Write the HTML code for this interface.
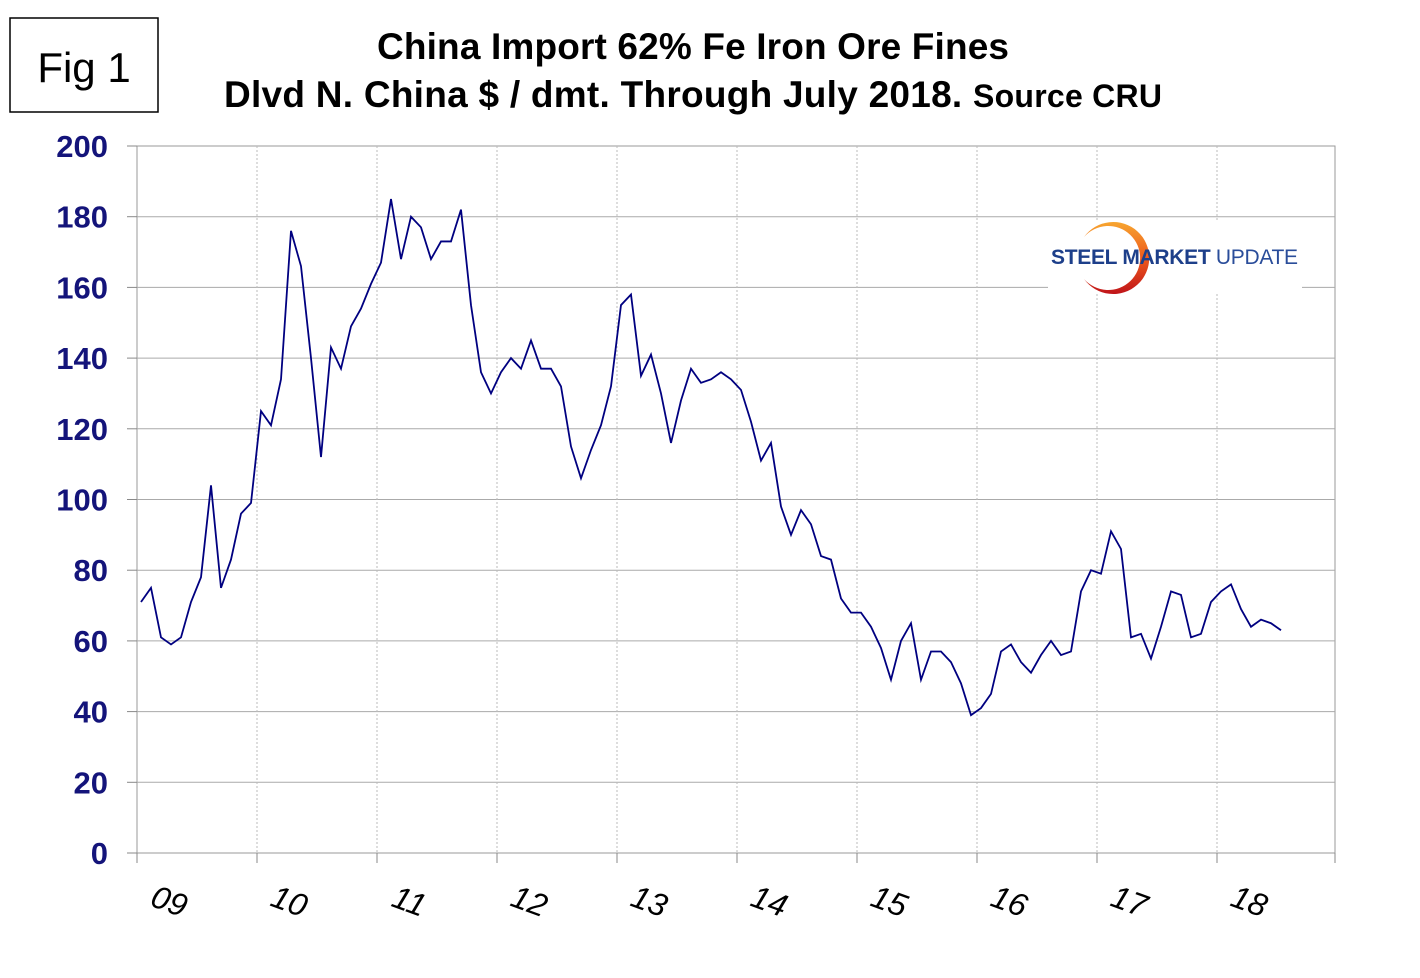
<!DOCTYPE html>
<html><head><meta charset="utf-8"><style>
body{margin:0;background:#fff;}
svg text{font-family:"Liberation Sans",Arial,sans-serif;}
</style></head><body>
<svg id="c" width="1420" height="973" xmlns="http://www.w3.org/2000/svg">
<defs><linearGradient id="og" x1="0" y1="0" x2="0" y2="1"><stop offset="0" stop-color="#f7a530"/><stop offset="0.5" stop-color="#ee5a1c"/><stop offset="1" stop-color="#c0141a"/></linearGradient></defs>
<rect x="10" y="18" width="148" height="94" fill="#fff" stroke="#000" stroke-width="1.5"/>
<text x="84" y="82" font-size="42" text-anchor="middle">Fig 1</text>
<text x="693" y="59" font-size="37" font-weight="bold" text-anchor="middle" textLength="632">China Import 62% Fe Iron Ore Fines</text>
<text x="224" y="107" font-size="37" font-weight="bold" textLength="938">Dlvd N. China $ / dmt. Through July 2018. <tspan font-size="32">Source CRU</tspan></text>
<g id="grid"></g>
<g id="axes"></g>
<g>
<rect x="1048" y="222" width="254" height="70" fill="#fff"/>
<path d="M1084,237 A36,36 0 1,1 1084,279 A32,32 0 1,0 1084,237 Z" fill="url(#og)"/>
<text x="1051" y="264" font-size="21" font-weight="bold" fill="#1d3f8a" textLength="247">STEEL MARKET <tspan font-weight="normal" fill="#2a4d9a">UPDATE</tspan></text>
</g>
<g id="series"></g>
</svg>
<script>
const yearLabels = ['09','10','11','12','13','14','15','16','17','18'];
const yTicks = [0,20,40,60,80,100,120,140,160,180,200];
const prices = [71,75,61,59,61,71,78,104,75,83,96,99,
125,121,134,176,166,140,112,143,137,149,154,161,
167,185,168,180,177,168,173,173,182,155,136,130,
136,140,137,145,137,137,132,115,106,114,121,132,
155,158,135,141,130,116,128,137,133,134,136,134,
131,122,111,116,98,90,97,93,84,83,72,68,
68,64,58,49,60,65,49,57,57,54,48,39,
41,45,57,59,54,51,56,60,56,57,74,80,
79,91,86,61,62,55,64,74,73,61,62,71,
74,76,69,64,66,65,63];
const X0=137,X1=1335,Y0=853,Y1=146;
const xs=i=>141+i*10;
const ys=v=>Y0-(v/200)*(Y0-Y1);
const NS='http://www.w3.org/2000/svg';
function mk(tag,attrs,parent){const e=document.createElementNS(NS,tag);for(const k in attrs)e.setAttribute(k,attrs[k]);parent.appendChild(e);return e;}
const grid=document.getElementById('grid'),axes=document.getElementById('axes'),ser=document.getElementById('series');
mk('rect',{x:X0,y:Y1,width:X1-X0,height:Y0-Y1,fill:'none',stroke:'#999','stroke-width':1},grid);
yTicks.forEach(v=>{
  const y=ys(v);
  if(v>0&&v<200){const l=mk('line',{x1:X0,x2:X1,y1:y,y2:y,stroke:'#aaa','stroke-width':1},grid);
  
  }
  mk('line',{x1:X0-10,x2:X0,y1:y,y2:y,stroke:'#888'},axes);
  const t=mk('text',{x:108,y:y+11,'font-size':31,'font-weight':'bold',fill:'#14147a','text-anchor':'end'},axes);
  t.textContent=v;
  
  
});
yearLabels.forEach((lab,i)=>{
  const x=X0+i*120;
  if(i>0){const l=mk('line',{x1:x,x2:x,y1:Y1,y2:Y0,stroke:'#bbb','stroke-dasharray':'2,2'},grid);
  
  }
  mk('line',{x1:x,x2:x,y1:Y0,y2:Y0+10,stroke:'#888'},axes);
  const t=mk('text',{x:x+32,y:912,'font-size':32,'font-style':'italic','text-anchor':'middle',transform:'rotate(20 '+(x+32)+' 902)'},axes);
  t.textContent=lab;
  
  
});
mk('line',{x1:X1,x2:X1,y1:Y0,y2:Y0+10,stroke:'#888'},axes);
const p=mk('polyline',{points:prices.map((v,i)=>xs(i)+','+ys(v)).join(' '),fill:'none',stroke:'#000080','stroke-width':1.8},ser);


</script>
</body></html>
